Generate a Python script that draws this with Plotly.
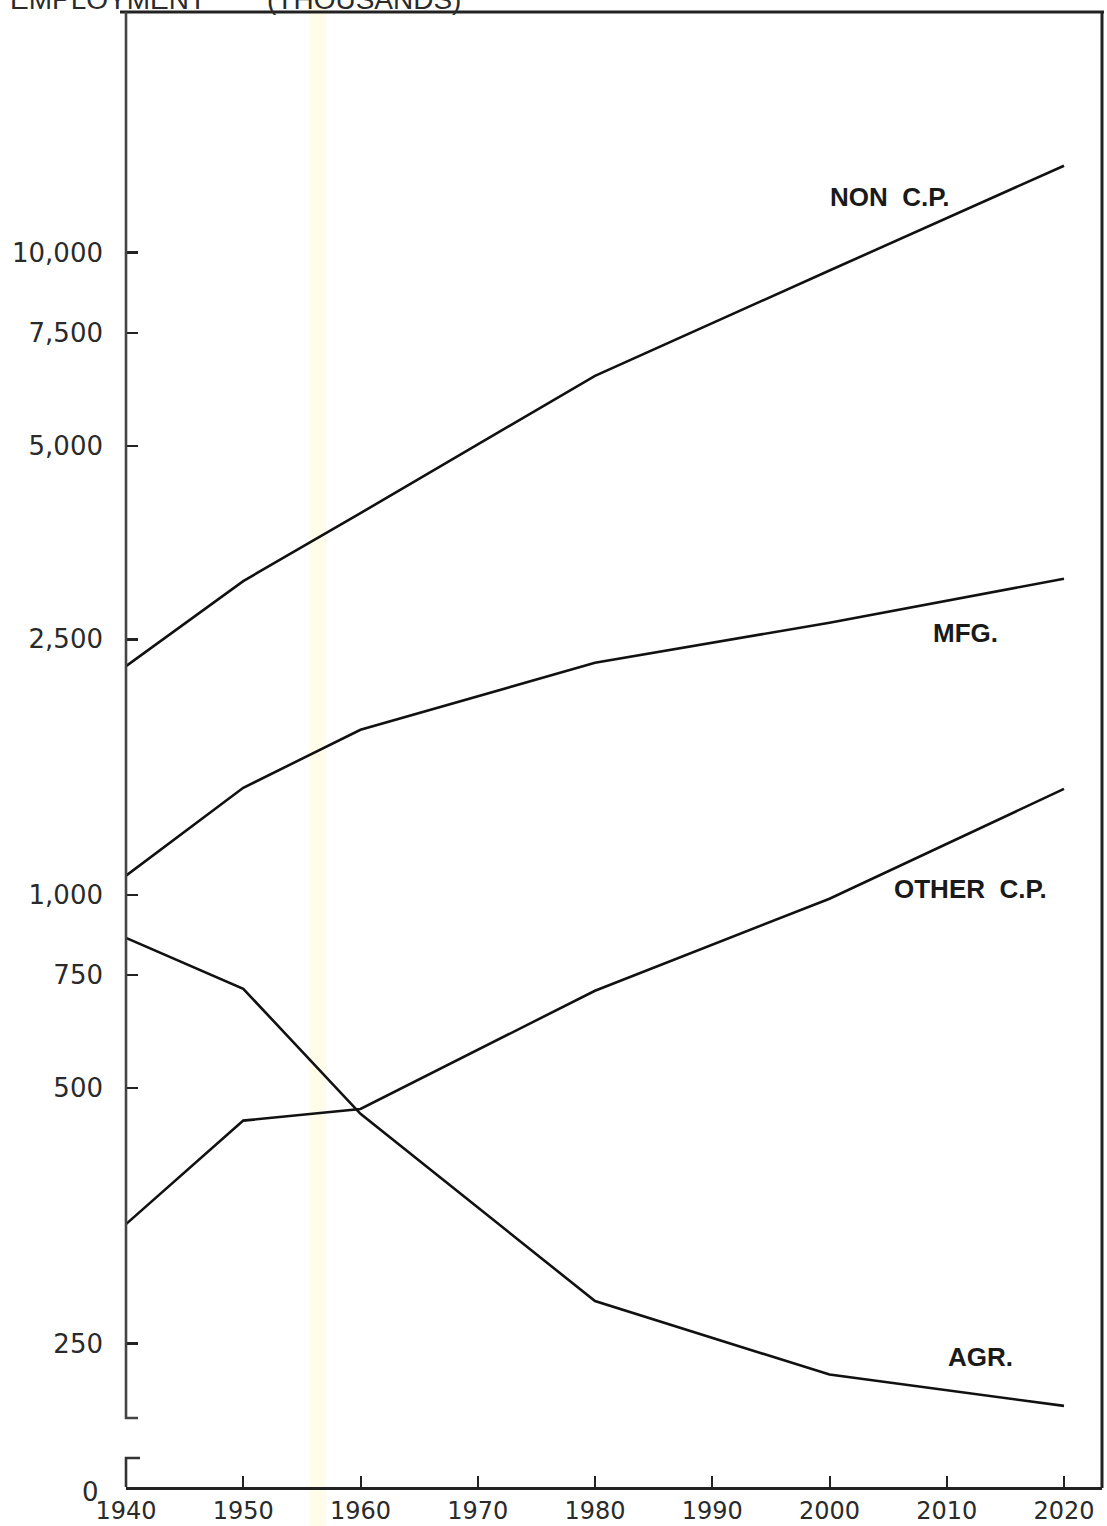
import plotly.graph_objects as go

# ---- data (thousands of employees) ----
years = [1940, 1950, 1960, 1980, 2000, 2020]
non_cp = [2270, 3080, 3930, 6430, 9380, 13660]
mfg = [1071, 1468, 1807, 2298, 2653, 3106]
other_cp = [307, 445, 464, 709, 986, 1462]
agr = [857, 714, 456, 233, 179, 160]

series_names = ["NON C.P.", "MFG.", "OTHER C.P.", "AGR."]

x_ticks = [1940, 1950, 1960, 1970, 1980, 1990, 2000, 2010, 2020]
y_tickvals = [200, 500, 750, 1000, 2500, 5000, 7500, 10000]
y_ticktext = ["250", "500", "750", "1,000", "2,500", "5,000", "7,500", "10,000"]

W, H = 1107, 1526
ML, MR, MT, MB = 126, 5, 12, 39
PW, PH = W - ML - MR, H - MT - MB


def px_x(p):
    return (p - ML) / PW


def px_y(p):
    return (H - MB - p) / PH


fig = go.Figure()
for name, vals in zip(series_names, [non_cp, mfg, other_cp, agr]):
    fig.add_trace(go.Scatter(x=years, y=vals, mode="lines", name=name,
                             line=dict(color="#111111", width=2.6),
                             showlegend=False, hoverinfo="skip"))

ink = "#222222"
shapes = [
    # faint scan band
    dict(type="rect", xref="paper", yref="paper", x0=px_x(310), x1=px_x(326),
         y0=px_y(1526), y1=px_y(0), fillcolor="#fffcea", line=dict(width=0), layer="below"),
    # top frame
    dict(type="line", xref="paper", yref="paper", x0=px_x(120), x1=px_x(1104),
         y0=px_y(12), y1=px_y(12), line=dict(color=ink, width=3)),
    # right frame
    dict(type="line", xref="paper", yref="paper", x0=px_x(1102), x1=px_x(1102),
         y0=px_y(12), y1=px_y(1488), line=dict(color=ink, width=3)),
    # left axis upper segment with foot
    dict(type="path", xref="paper", yref="paper",
         path=f"M {px_x(126)} {px_y(12)} L {px_x(126)} {px_y(1418)} L {px_x(138)} {px_y(1418)}",
         line=dict(color="#444444", width=2.6)),
    # left axis lower bracket
    dict(type="path", xref="paper", yref="paper",
         path=f"M {px_x(140)} {px_y(1458)} L {px_x(126)} {px_y(1458)} L {px_x(126)} {px_y(1487)}",
         line=dict(color="#333333", width=2.6)),
]

label_font = dict(family="Liberation Sans", size=26, color="#1a1a1a")
annotations = [
    dict(text="<b>NON  C.P.</b>", x=px_x(889), y=px_y(197)),
    dict(text="<b>MFG.</b>", x=px_x(965), y=px_y(633)),
    dict(text="<b>OTHER  C.P.</b>", x=px_x(970), y=px_y(889)),
    dict(text="<b>AGR.</b>", x=px_x(980), y=px_y(1357)),
]
for a in annotations:
    a.update(xref="paper", yref="paper", showarrow=False, font=label_font,
             xanchor="center", yanchor="middle")

annotations += [
    dict(text="0", xref="paper", yref="paper", x=px_x(90), y=px_y(1492),
         showarrow=False, font=dict(family="DejaVu Sans", size=26, color="#2a2a2a"),
         xanchor="center", yanchor="middle"),
    dict(text="EMPLOYMENT", xref="paper", yref="paper", x=px_x(8), y=px_y(0),
         showarrow=False, font=dict(family="Liberation Sans", size=28, color="#2a2a2a"),
         xanchor="left", yanchor="middle"),
    dict(text="(THOUSANDS)", xref="paper", yref="paper", x=px_x(265), y=px_y(0),
         showarrow=False, font=dict(family="Liberation Sans", size=28, color="#2a2a2a"),
         xanchor="left", yanchor="middle"),
]

fig.update_layout(
    width=W, height=H,
    margin=dict(l=ML, r=MR, t=MT, b=MB, pad=0, autoexpand=False),
    paper_bgcolor="white", plot_bgcolor="rgba(0,0,0,0)",
    shapes=shapes, annotations=annotations,
    xaxis=dict(range=[1940, 1940 + (1102 - 126) / 11.725], tickvals=x_ticks,
               ticktext=[str(v) for v in x_ticks], automargin=False,
               showgrid=False, zeroline=False, showline=True, linecolor=ink, linewidth=3,
               ticks="inside", ticklen=11, tickwidth=2, tickcolor=ink,
               tickfont=dict(family="DejaVu Sans", size=24, color="#2a2a2a"),
               ticklabelstandoff=0),
    yaxis=dict(type="log", range=[2.0778, 4.3748], tickvals=y_tickvals, ticktext=y_ticktext,
               automargin=False,
               showgrid=False, zeroline=False, showline=False,
               ticks="inside", ticklen=12, tickwidth=2.5, tickcolor=ink,
               tickfont=dict(family="DejaVu Sans", size=26, color="#2a2a2a"),
               ticklabelstandoff=22),
)

fig.write_html(
    "out.html",
    config={"displayModeBar": False, "staticPlot": True},
    post_script="document.body.style.margin='0';document.body.style.overflow='hidden';"
                "document.documentElement.style.overflow='hidden';",
)
